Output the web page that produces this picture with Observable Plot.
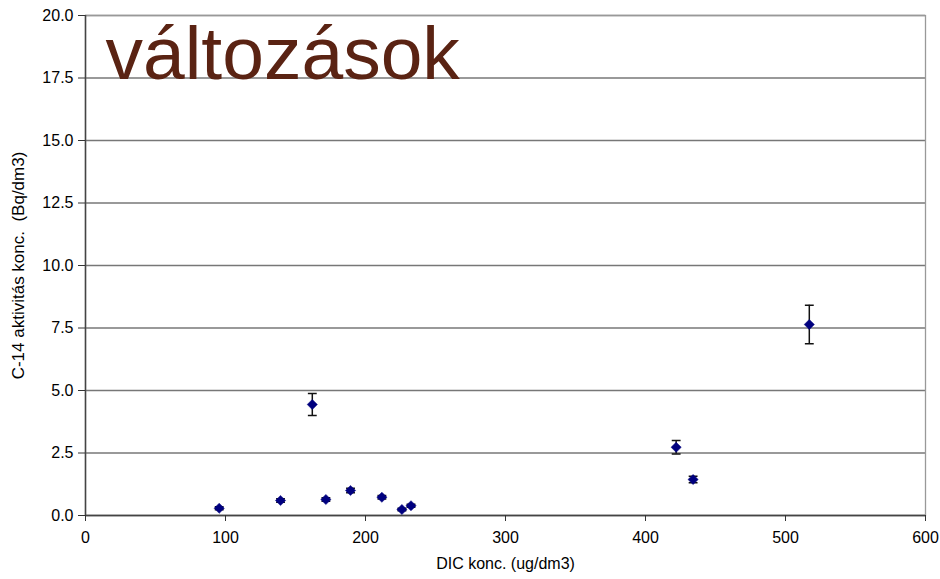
<!DOCTYPE html>
<html>
<head>
<meta charset="utf-8">
<script src="https://cdn.jsdelivr.net/npm/d3@7"></script>
<script src="https://cdn.jsdelivr.net/npm/@observablehq/plot@0.6"></script>
<style>
  html, body { margin: 0; padding: 0; background: #fff; }
  #chart { width: 940px; height: 579px; }
</style>
</head>
<body>
<div id="chart"></div>
<script>
// DIC concentration (ug/dm3)
const dic = [95.5, 139.3, 162, 171.7, 189.3, 211.7, 226, 232.5, 421.9, 434, 517];
// C-14 activity concentration (Bq/dm3)
const c14 = [0.29, 0.6, 4.44, 0.64, 1.0, 0.73, 0.24, 0.39, 2.73, 1.44, 7.64];
// uncertainty (Bq/dm3)
const err = [0.06, 0.07, 0.44, 0.07, 0.09, 0.07, 0.05, 0.06, 0.27, 0.13, 0.77];

const xTicks = [0, 100, 200, 300, 400, 500, 600];
const yTicks = [0, 2.5, 5, 7.5, 10, 12.5, 15, 17.5, 20];
const title = "változások";

const data = dic.map((x, i) => ({x, y: c14[i], lo: c14[i] - err[i], hi: c14[i] + err[i]}));

const capSymbol = {
  draw(ctx, size) {
    const w = Math.sqrt(size);
    ctx.moveTo(-w, 0);
    ctx.lineTo(w, 0);
  }
};

const font = "'Liberation Sans', Arial, sans-serif";

const chart = Plot.plot({
  width: 940,
  height: 579,
  marginLeft: 85,
  marginRight: 15,
  marginTop: 15,
  marginBottom: 64,
  style: {fontFamily: font, fontSize: "16px", color: "#000", background: "#fff"},
  x: {domain: [0, 600], ticks: xTicks, label: null},
  y: {domain: [0, 20], ticks: yTicks, label: null},
  marks: [
    Plot.gridY(yTicks, {stroke: "#777", strokeOpacity: 1, strokeWidth: 1.3}),
    Plot.frame({stroke: "#999", strokeWidth: 1.3}),
    Plot.ruleX([0], {stroke: "#444", strokeWidth: 1.5}),
    Plot.ruleY([0], {stroke: "#444", strokeWidth: 1.5}),
    Plot.axisY(yTicks, {tickFormat: d => d.toFixed(1), tickSize: 7, tickPadding: 5, stroke: "#333", fontSize: 16}),
    Plot.axisX(xTicks, {tickFormat: d => String(d), tickSize: 6, tickPadding: 10, stroke: "#333", fontSize: 16}),
    Plot.text([title], {frameAnchor: "top-left", dx: 20, dy: 10, fontSize: 75, fill: "#5a2313", textAnchor: "start", lineAnchor: "top", fontFamily: font}),
    Plot.ruleX(data, {x: "x", y1: "lo", y2: "hi", stroke: "#111", strokeWidth: 1.5}),
    Plot.dot(data, {x: "x", y: "lo", symbol: capSymbol, r: 2.5, stroke: "#111", strokeWidth: 1.5, fill: "none"}),
    Plot.dot(data, {x: "x", y: "hi", symbol: capSymbol, r: 2.5, stroke: "#111", strokeWidth: 1.5, fill: "none"}),
    Plot.dot(data, {x: "x", y: "y", symbol: "diamond2", r: 4.6, fill: "#00007f", stroke: "#00007f", strokeWidth: 0.5}),
    Plot.text(["DIC konc. (ug/dm3)"], {frameAnchor: "bottom", dy: 53, fontSize: 16, fill: "#000"}),
    Plot.text(["C-14 aktivitás konc.  (Bq/dm3)"], {frameAnchor: "left", textAnchor: "middle", dx: -67, rotate: -90, fontSize: 17, fill: "#000"})
  ]
});

document.getElementById("chart").appendChild(chart);
</script>
</body>
</html>
